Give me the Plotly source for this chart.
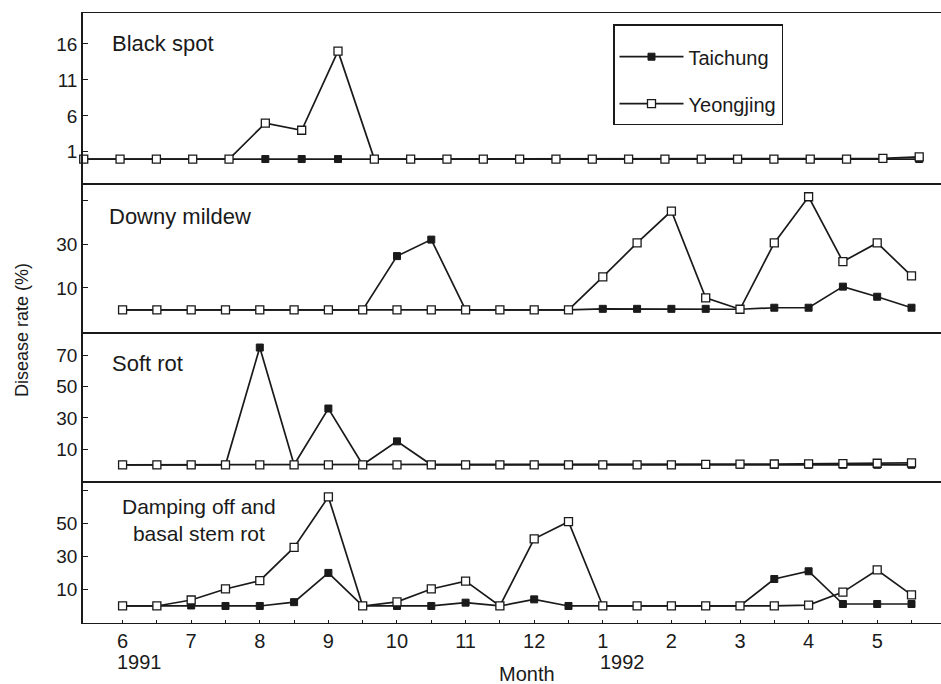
import plotly.graph_objects as go

# ---- data (half-month sampling, June 1991 .. May 1992) ----
months = [0, 0.5, 1, 1.5, 2, 2.5, 3, 3.5, 4, 4.5, 5, 5.5,
          6, 6.5, 7, 7.5, 8, 8.5, 9, 9.5, 10, 10.5, 11, 11.5]
tick_pos = [0, 0.5, 1, 1.5, 2, 2.5, 3, 3.5, 4, 4.5, 5, 5.5,
            6, 6.5, 7, 7.5, 8, 8.5, 9, 9.5, 10, 10.5, 11, 11.5]
tick_labels = ['6', '', '7', '', '8', '', '9', '', '10', '', '11', '',
               '12', '', '1', '', '2', '', '3', '', '4', '', '5', '']

black_taichung = [0, 0, 0, 0, 0, 0, 0, 0, 0, 0, 0, 0,
                  0, 0, 0, 0, 0, 0, 0, 0, 0, 0, 0, 0]
black_yeongjing = [0, 0, 0, 0, 0, 5, 4, 15, 0, 0, 0, 0,
                   0, 0, 0, 0, 0, 0, 0, 0, 0, 0, 0.1, 0.3]

downy_taichung = [0, 0, 0, 0, 0, 0, 0, 0, 24.5, 32, 0, 0,
                  0, 0, 0.5, 0.5, 0.5, 0.5, 0.3, 1, 1, 10.6, 6, 1]
downy_yeongjing = [0, 0, 0, 0, 0, 0, 0, 0, 0, 0, 0, 0,
                   0, 0, 15, 30.5, 45, 5.5, 0.3, 30.5, 51.5, 22, 30.5, 15.5]

soft_taichung = [0, 0, 0, 0, 75, 0, 36, 0, 15, 0, 0, 0,
                 0, 0, 0, 0, 0, 0, 0, 0, 0, 0, 0, 0]
soft_yeongjing = [0, 0, 0, 0, 0, 0, 0, 0, 0, 0, 0, 0,
                  0, 0, 0, 0, 0, 0.3, 0.4, 0.5, 0.6, 0.8, 1, 1.2]

damp_taichung = [0, 0, 0.3, 0, 0, 2.3, 20, 0, 0, 0, 2, 0,
                 4, 0, 0, 0, 0, 0, 0, 16.3, 21, 1.2, 1.2, 1.2]
damp_yeongjing = [0, 0, 3.6, 10.3, 15.3, 35.4, 66, 0, 2.5, 10.3, 15, 0,
                  40.6, 51, 0, 0, 0, 0, 0, 0, 0.5, 8.4, 21.8, 6.7]

panel_names = ['Black spot', 'Downy mildew', 'Soft rot',
               'Damping off and<br>basal stem rot']
series_names = ['Taichung', 'Yeongjing']

# ---- styling ----
FONT = 'Liberation Sans, Arial, sans-serif'
INK = '#1a1a1a'
W, H = 941, 684
L, R, T, B = 83, 0, 13, 61
PW, PH = W - L - R, H - T - B


def px_x(px):
    return (px - L) / PW


def px_y(py):
    return (H - B - py) / PH


fig = go.Figure()

panel_data = [
    (black_taichung, black_yeongjing),
    (downy_taichung, downy_yeongjing),
    (soft_taichung, soft_yeongjing),
    (damp_taichung, damp_yeongjing),
]

for k, (tai, yeo) in enumerate(panel_data):
    sfx = '' if k == 0 else str(k + 1)
    fig.add_trace(go.Scatter(
        x=months, y=tai, name=series_names[0], mode='lines+markers',
        xaxis='x' + sfx, yaxis='y' + sfx, cliponaxis=False,
        line=dict(color=INK, width=1.7),
        marker=dict(symbol='square', size=7, color=INK,
                    line=dict(color=INK, width=1)),
        legendgroup='t', showlegend=(k == 0)))
    fig.add_trace(go.Scatter(
        x=months, y=yeo, name=series_names[1], mode='lines+markers',
        xaxis='x' + sfx, yaxis='y' + sfx, cliponaxis=False,
        line=dict(color=INK, width=1.7),
        marker=dict(symbol='square', size=8, color='white',
                    line=dict(color=INK, width=1.3)),
        legendgroup='y', showlegend=(k == 0)))

b1, b2, b3 = px_y(184), px_y(333), px_y(482)
domains = [[b1, 1], [b2, b1], [b3, b2], [0, b3]]
yranges = [[-3.47, 20.3], [-10.5, 57.3], [-11, 84.3], [-10.3, 75]]
ytickv = [[1, 6, 11, 16], [10, 30, 50], [10, 30, 50, 70], [10, 30, 50, 70]]
ytickt = [['1', '6', '11', '16'], ['10', '30', ''], ['10', '30', '50', '70'],
          ['10', '30', '50', '']]
xranges = [[-0.01, 11.8], [-0.577, 11.93], [-0.577, 11.93], [-0.577, 11.93]]

axis_common = dict(showgrid=False, zeroline=False, showline=True,
                   linecolor=INK)
layout = {}
for k in range(4):
    sfx = '' if k == 0 else str(k + 1)
    xa = dict(axis_common, domain=[0, 1], range=xranges[k], mirror=True,
              anchor='y' + sfx, linewidth=1.3)
    if k == 3:
        xa.update(tickmode='array', tickvals=tick_pos, ticktext=tick_labels,
                  ticks='inside', ticklen=3, tickwidth=1.2, tickcolor=INK,
                  tickfont=dict(family=FONT, size=20, color=INK))
    else:
        xa.update(showticklabels=False, ticks='')
    ya = dict(axis_common, domain=domains[k], range=yranges[k], mirror=False,
              anchor='x' + sfx, tickmode='array', tickvals=ytickv[k],
              ticktext=ytickt[k], ticks='inside', ticklen=5, tickwidth=1.2,
              linewidth=1.6,
              tickcolor=INK, tickfont=dict(family=FONT, size=19, color=INK))
    layout['xaxis' + sfx] = xa
    layout['yaxis' + sfx] = ya

annotations = [
    dict(text=panel_names[0], x=px_x(110), y=px_y(43), xanchor='left',
         yanchor='middle', font=dict(size=22)),
    dict(text=panel_names[1], x=px_x(107), y=px_y(217), xanchor='left',
         yanchor='middle', font=dict(size=22)),
    dict(text=panel_names[2], x=px_x(110), y=px_y(363), xanchor='left',
         yanchor='middle', font=dict(size=22)),
    dict(text=panel_names[3], x=px_x(199), y=px_y(520), xanchor='center',
         yanchor='middle', align='center', font=dict(size=21)),
    dict(text='1991', x=px_x(115), y=px_y(662), xanchor='left',
         yanchor='middle', font=dict(size=20)),
    dict(text='1992', x=px_x(598), y=px_y(662), xanchor='left',
         yanchor='middle', font=dict(size=20)),
    dict(text='Month', x=px_x(527), y=px_y(674), xanchor='center',
         yanchor='middle', font=dict(size=20)),
    dict(text='Disease rate (%)', x=px_x(22), y=px_y(330), xanchor='center',
         yanchor='middle', textangle=-90, font=dict(size=18)),
]
for a in annotations:
    a.update(xref='paper', yref='paper', showarrow=False)
    a['font'].update(family=FONT, color=INK)

fig.update_layout(
    width=W, height=H,
    margin=dict(l=L, r=R, t=T, b=B, pad=0),
    paper_bgcolor='white', plot_bgcolor='white',
    font=dict(family=FONT, color=INK),
    showlegend=True,
    legend=dict(x=px_x(613), y=px_y(24), xanchor='left', yanchor='top',
                bordercolor=INK, borderwidth=1.5, bgcolor='white',
                title=dict(text=' ', font=dict(family=FONT, size=9)),
                font=dict(family=FONT, size=20, color=INK),
                tracegroupgap=18, itemwidth=64, traceorder='grouped'),
    annotations=annotations,
    **layout,
)

fig.write_html('out.html')
